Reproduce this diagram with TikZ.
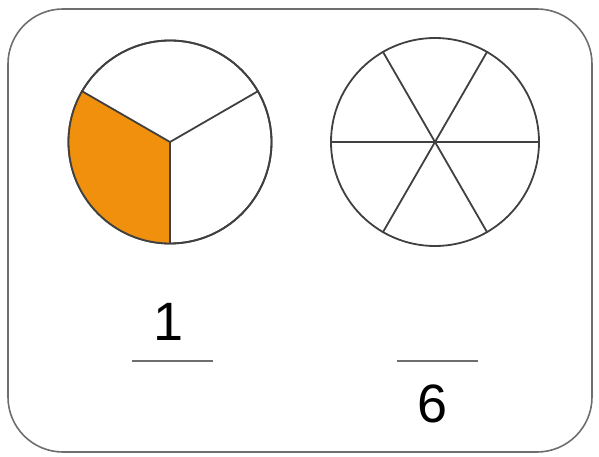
\documentclass[tikz,border=0pt]{standalone}
\usepackage{fontspec}
\setsansfont{Liberation Sans}
\usetikzlibrary{positioning}
\definecolor{pieorange}{HTML}{F0900C}
\definecolor{rimgray}{HTML}{6E6E6E}

\begin{document}
\begin{tikzpicture}[
        x=1pt, y=-1pt,
        font=\sffamily,
        pie/.style={circle, draw=black!75, line width=1.8pt, inner sep=0pt},
        spoke/.style={draw=black!75, line width=1.8pt},
        bar/.style={draw=rimgray, line width=2.6pt},
        digit/.style={font=\sffamily\fontsize{54}{60}\selectfont, inner sep=0pt}
    ]
    \useasboundingbox (0,0) rectangle (599,457);
    \draw[rimgray, line width=1.6pt, rounded corners=55pt] (8,9) rectangle (592,452);

    % left circle, one third shaded
    \node[pie, minimum size=203pt] (third) at (170,142) {};
    \fill[pieorange] (third.center) -- (third.150) arc[start angle=150, end angle=270, radius=101.5pt] -- cycle;
    \node[pie, minimum size=203pt] at (third.center) {};
    \draw[spoke] (third.center) -- (third.30);
    \draw[spoke] (third.center) -- (third.150);
    \draw[spoke] (third.center) -- (third.270);

    % right circle in sixths
    \node[pie, minimum size=208pt] (sixth) at (435,142) {};
    \foreach \a in {0,60,120}
        \draw[spoke] (sixth.\a) -- (sixth.\a+180);

    % fractions
    \node[digit] (num) at (169,322) {1};
    \draw[bar] (132,361) -- (213,361);
    \node[digit] (den) at (433,404) {6};
    \draw[bar] (397,361) -- (478,361);

\end{tikzpicture}
\end{document}
